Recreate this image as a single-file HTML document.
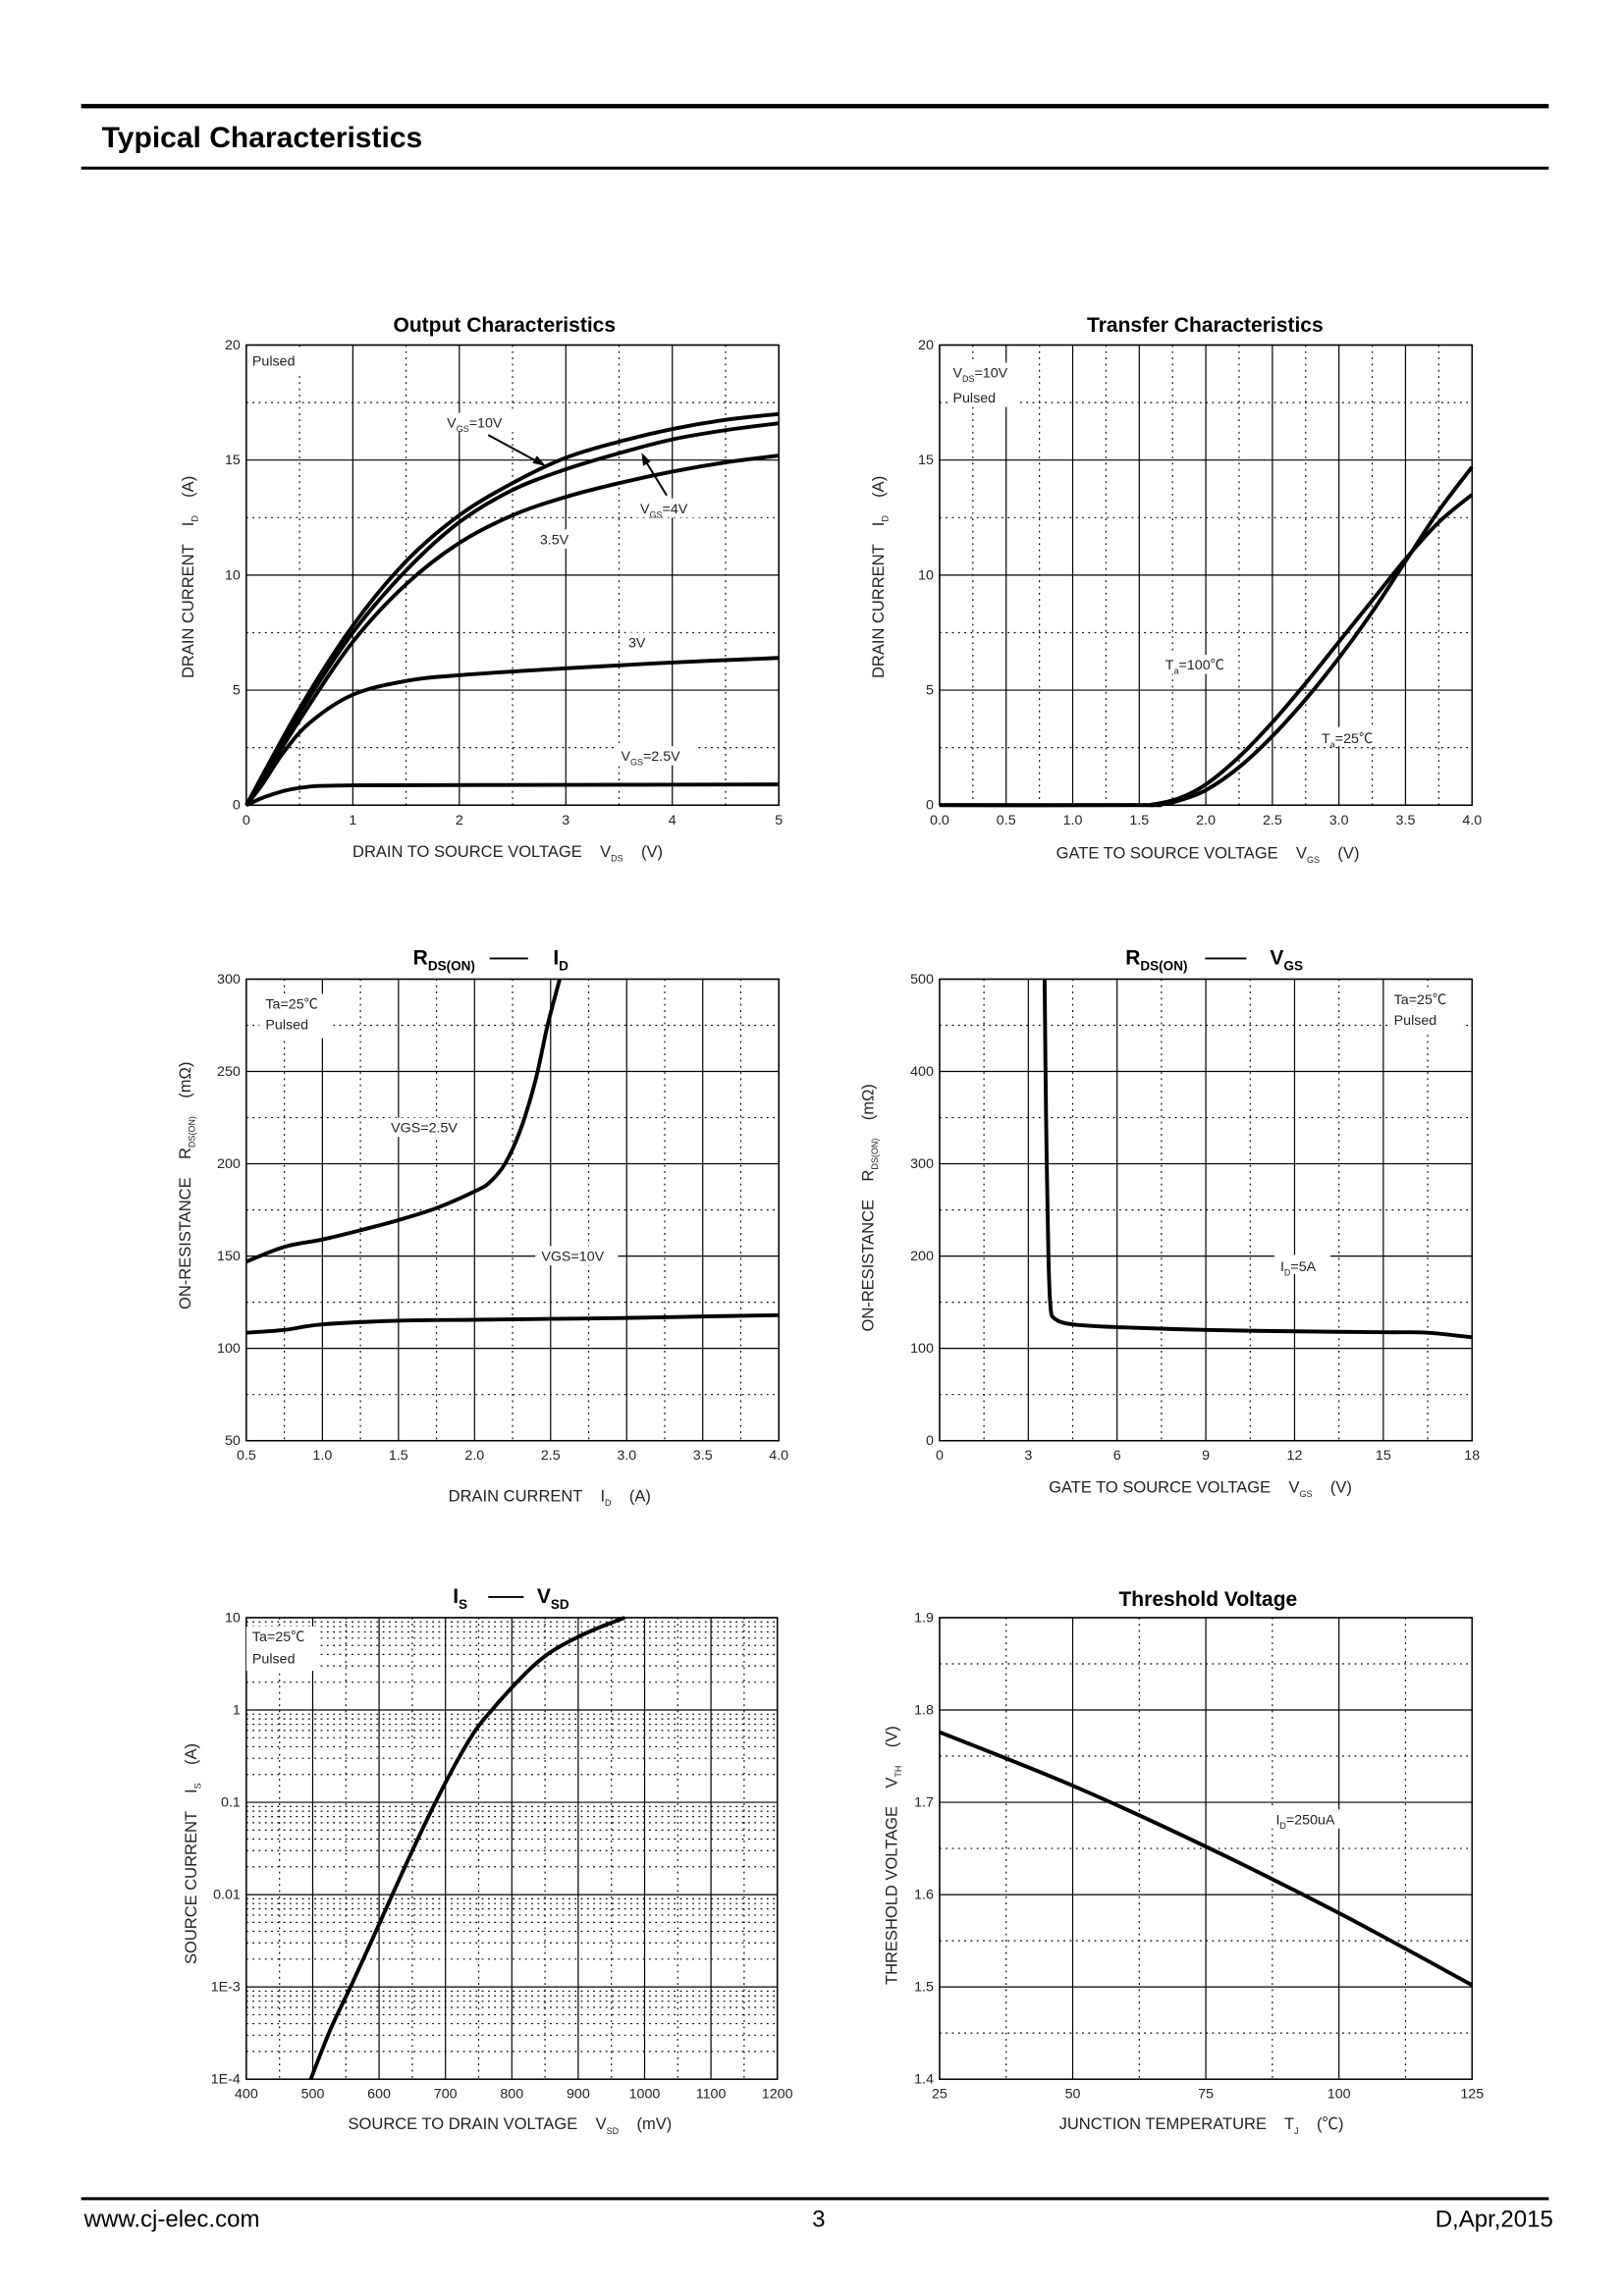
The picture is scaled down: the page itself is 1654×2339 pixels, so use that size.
<!DOCTYPE html>
<html><head><meta charset="utf-8">
<style>
html,body{margin:0;padding:0;background:#fff;}
svg{display:block;}
text{font-family:"Liberation Sans","Noto Sans CJK SC",sans-serif;white-space:pre;}
</style></head>
<body>
<svg id="s" xmlns="http://www.w3.org/2000/svg" xml:space="preserve" width="1654" height="2339" viewBox="0 0 1101 1557">
<rect width="1101" height="1557" fill="#fff"/>
<line x1="55" y1="72" x2="1050" y2="72" stroke="#000" stroke-width="3"/>
<text x="69" y="100" font-size="20" font-weight="bold">Typical Characteristics</text>
<line x1="55" y1="114" x2="1050" y2="114" stroke="#000" stroke-width="2"/>
<line x1="55" y1="1491" x2="1050" y2="1491" stroke="#000" stroke-width="2"/>
<text x="57" y="1510" font-size="16">www.cj-elec.com</text>
<text x="555" y="1510" font-size="16" text-anchor="middle">3</text>
<text x="1053" y="1510" font-size="16" text-anchor="end">D,Apr,2015</text>

<text x="342" y="225" font-size="14" font-weight="bold" text-anchor="middle">Output Characteristics</text>
<text x="817" y="225" font-size="14" font-weight="bold" text-anchor="middle">Transfer Characteristics</text>
<text x="280" y="654" font-size="14" font-weight="bold">R<tspan font-size="9" dy="4">DS(ON)</tspan></text>
<line x1="332" y1="650" x2="358" y2="650" stroke="#000" stroke-width="1.2"/>
<text x="375" y="654" font-size="14" font-weight="bold">I<tspan font-size="9" dy="4">D</tspan></text>
<text x="763" y="654" font-size="14" font-weight="bold">R<tspan font-size="9" dy="4">DS(ON)</tspan></text>
<line x1="817" y1="650" x2="845" y2="650" stroke="#000" stroke-width="1.2"/>
<text x="861" y="654" font-size="14" font-weight="bold">V<tspan font-size="9" dy="4">GS</tspan></text>
<text x="307" y="1087" font-size="14" font-weight="bold">I<tspan font-size="9" dy="4">S</tspan></text>
<line x1="331" y1="1083" x2="355" y2="1083" stroke="#000" stroke-width="1.2"/>
<text x="364" y="1087" font-size="14" font-weight="bold">V<tspan font-size="9" dy="4">SD</tspan></text>
<text x="819" y="1089" font-size="14" font-weight="bold" text-anchor="middle">Threshold Voltage</text>

<g font-size="11" fill="#222">
<text x="239" y="581">DRAIN TO SOURCE VOLTAGE    V<tspan font-size="6" dy="3">DS</tspan><tspan dy="-3">    (V)</tspan></text>
<text x="716" y="582">GATE TO SOURCE VOLTAGE    V<tspan font-size="6" dy="3">GS</tspan><tspan dy="-3">    (V)</tspan></text>
<text x="304" y="1018">DRAIN CURRENT    I<tspan font-size="6" dy="3">D</tspan><tspan dy="-3">    (A)</tspan></text>
<text x="711" y="1012">GATE TO SOURCE VOLTAGE    V<tspan font-size="6" dy="3">GS</tspan><tspan dy="-3">    (V)</tspan></text>
<text x="236" y="1444">SOURCE TO DRAIN VOLTAGE    V<tspan font-size="6" dy="3">SD</tspan><tspan dy="-3">    (mV)</tspan></text>
<text x="718" y="1444">JUNCTION TEMPERATURE    T<tspan font-size="6" dy="3">J</tspan><tspan dy="-3">    (℃)</tspan></text>
<text transform="translate(131,460) rotate(-90)">DRAIN CURRENT    I<tspan font-size="6" dy="3">D</tspan><tspan dy="-3">    (A)</tspan></text>
<text transform="translate(599,460) rotate(-90)">DRAIN CURRENT    I<tspan font-size="6" dy="3">D</tspan><tspan dy="-3">    (A)</tspan></text>
<text transform="translate(129,888) rotate(-90)">ON-RESISTANCE    R<tspan font-size="6" dy="3">DS(ON)</tspan><tspan dy="-3">    (mΩ)</tspan></text>
<text transform="translate(592,903) rotate(-90)">ON-RESISTANCE    R<tspan font-size="6" dy="3">DS(ON)</tspan><tspan dy="-3">    (mΩ)</tspan></text>
<text transform="translate(133,1332) rotate(-90)">SOURCE CURRENT    I<tspan font-size="6" dy="3">S</tspan><tspan dy="-3">    (A)</tspan></text>
<text transform="translate(608,1346) rotate(-90)">THRESHOLD VOLTAGE    V<tspan font-size="6" dy="3">TH</tspan><tspan dy="-3">    (V)</tspan></text>
</g>
<g id="charts"></g>
</svg>
<script>
var NS="http://www.w3.org/2000/svg",G=document.getElementById("charts");
function el(t,a,p){var e=document.createElementNS(NS,t);for(var k in a)e.setAttribute(k,a[k]);(p||G).appendChild(e);return e;}
function txt(x,y,s,a){a=a||{};a.x=x;a.y=y;if(!a["font-size"])a["font-size"]=9.5;if(!a.fill)a.fill="#222";var e=el("text",a);e.textContent=s;return e;}
function spline(pts){var d="M"+pts[0][0].toFixed(2)+","+pts[0][1].toFixed(2);
for(var i=0;i<pts.length-1;i++){var p0=pts[i-1]||pts[i],p1=pts[i],p2=pts[i+1],p3=pts[i+2]||p2;
var c1=[p1[0]+(p2[0]-p0[0])/6,p1[1]+(p2[1]-p0[1])/6],c2=[p2[0]-(p3[0]-p1[0])/6,p2[1]-(p3[1]-p1[1])/6];
d+="C"+c1[0].toFixed(2)+","+c1[1].toFixed(2)+" "+c2[0].toFixed(2)+","+c2[1].toFixed(2)+" "+p2[0].toFixed(2)+","+p2[1].toFixed(2);}return d;}
function chart(c){
 var L=c.x0,R=c.x1,T=c.y0,B=c.y1;
 var fx=function(v){return L+(v-c.xmin)/(c.xmax-c.xmin)*(R-L);};
 var fy=c.log?function(v){return B-(Math.log10(v)-c.ymin)/(c.ymax-c.ymin)*(B-T);}:function(v){return B-(v-c.ymin)/(c.ymax-c.ymin)*(B-T);};
 var g=el("g",{});
 (c.xd||[]).forEach(function(v){var x=fx(v);el("line",{x1:x,y1:T,x2:x,y2:B,stroke:"#000","stroke-width":0.8,"stroke-dasharray":"1.2 3"},g);});
 (c.yd||[]).forEach(function(v){var y=fy(v);el("line",{x1:L,y1:y,x2:R,y2:y,stroke:"#000","stroke-width":0.8,"stroke-dasharray":"1.2 3"},g);});
 c.xs.forEach(function(v){var x=fx(v);el("line",{x1:x,y1:T,x2:x,y2:B,stroke:"#000","stroke-width":0.8},g);});
 c.ys.forEach(function(v){var y=fy(v);el("line",{x1:L,y1:y,x2:R,y2:y,stroke:"#000","stroke-width":0.8},g);});
 el("rect",{x:L,y:T,width:R-L,height:B-T,fill:"none",stroke:"#000","stroke-width":1},g);
 c.xl.forEach(function(s,i){txt(fx(c.xs[i]),B+13,s,{"text-anchor":"middle"});});
 c.yl.forEach(function(s,i){txt(L-4,fy(c.ys[i])+3,s,{"text-anchor":"end"});});
 (c.labels||[]).forEach(function(l){var w=l[3]||l[2].length*5.6;el("rect",{x:l[0]-2,y:l[1]-10,width:w+4,height:l[4]||13,fill:"#fff"});});
 (c.curves||[]).forEach(function(cv){var pts=cv.map(function(p){return [fx(p[0]),fy(p[1])];});
  el("path",{d:spline(pts),fill:"none",stroke:"#000","stroke-width":2.6,"stroke-linejoin":"round"});});
 return c;
}
function rng(a,b,s){var r=[];for(var v=a;v<=b+1e-9;v+=s)r.push(+v.toFixed(4));return r;}
chart({x0:167,x1:528,y0:234,y1:546,xmin:0,xmax:5,ymin:0,ymax:20,
 xs:[0,1,2,3,4,5],xl:["0","1","2","3","4","5"],ys:[0,5,10,15,20],yl:["0","5","10","15","20"],
 xd:[0.5,1.5,2.5,3.5,4.5],yd:[2.5,7.5,12.5,17.5],
 labels:[[170,248,"Pulsed",36,14],[302,290,"",48],[433,348,"",42],[366,369,"3.5V",22],[426,439,"3V",14],[420,516,"",50]],
 curves:[
 [[0,0],[0.5,4.2],[1,7.8],[1.5,10.6],[2,12.6],[2.5,14],[3,15.1],[3.5,15.8],[4,16.35],[4.5,16.75],[5,17]],
 [[0,0],[0.5,4],[1,7.5],[1.5,10.2],[2,12.3],[2.5,13.7],[3,14.6],[3.5,15.3],[4,15.9],[4.5,16.3],[5,16.6]],
 [[0,0],[0.5,3.7],[1,7.1],[1.5,9.6],[2,11.4],[2.5,12.6],[3,13.4],[3.5,14],[4,14.5],[4.5,14.9],[5,15.2]],
 [[0,0],[0.15,0.9],[0.35,2.3],[0.6,3.6],[1,4.8],[1.5,5.4],[2,5.65],[3,5.95],[4,6.2],[5,6.4]],
 [[0,0],[0.2,0.4],[0.5,0.75],[1,0.86],[3,0.88],[5,0.9]]]});
txt(171,248,"Pulsed");txt(366,369,"3.5V");txt(426,439,"3V");
(function(){var t=txt(303,290,"V");var s=el("tspan",{"font-size":6,dy:3},t);s.textContent="GS";s=el("tspan",{dy:-3},t);s.textContent="=10V";
t=txt(434,348,"V");s=el("tspan",{"font-size":6,dy:3},t);s.textContent="GS";s=el("tspan",{dy:-3},t);s.textContent="=4V";
t=txt(421,516,"V");s=el("tspan",{"font-size":6,dy:3},t);s.textContent="GS";s=el("tspan",{dy:-3},t);s.textContent="=2.5V";})();
el("line",{x1:331,y1:295,x2:368,y2:315,stroke:"#000","stroke-width":1.3});
el("polygon",{points:"370,316 361,314 364,309",fill:"#000"});
el("line",{x1:452,y1:336,x2:436,y2:310,stroke:"#000","stroke-width":1.3});
el("polygon",{points:"435,307 441,313 436,316",fill:"#000"});
chart({x0:637,x1:998,y0:234,y1:546,xmin:0,xmax:4,ymin:0,ymax:20,
 xs:rng(0,4,0.5),xl:["0.0","0.5","1.0","1.5","2.0","2.5","3.0","3.5","4.0"],ys:[0,5,10,15,20],yl:["0","5","10","15","20"],
 xd:rng(0.25,3.75,0.5),yd:[2.5,7.5,12.5,17.5],
 labels:[[645,256,"",44,30],[789,454,"",46],[895,503,"",44]],
 curves:[
 [[0,0],[1.5,0],[1.65,0.02],[1.8,0.2],[2,0.65],[2.25,1.65],[2.5,3],[2.75,4.6],[3,6.4],[3.25,8.4],[3.5,10.6],[3.75,12.8],[4,14.7]],
 [[0,0],[1.45,0],[1.6,0.03],[1.8,0.3],[2,0.9],[2.25,2.1],[2.5,3.6],[2.75,5.3],[3,7.1],[3.25,8.9],[3.5,10.7],[3.75,12.3],[4,13.5]]]});
(function(){var t=txt(646,256,"V");var s=el("tspan",{"font-size":6,dy:3},t);s.textContent="DS";s=el("tspan",{dy:-3},t);s.textContent="=10V";
txt(646,273,"Pulsed");
t=txt(790,454,"T");s=el("tspan",{"font-size":6,dy:3},t);s.textContent="a";s=el("tspan",{dy:-3},t);s.textContent="=100℃";
t=txt(896,504,"T");s=el("tspan",{"font-size":6,dy:3},t);s.textContent="a";s=el("tspan",{dy:-3},t);s.textContent="=25℃";})();
chart({x0:167,x1:528,y0:664,y1:977,xmin:0.5,xmax:4,ymin:50,ymax:300,
 xs:rng(0.5,4,0.5),xl:["0.5","1.0","1.5","2.0","2.5","3.0","3.5","4.0"],ys:rng(50,300,50),yl:["50","100","150","200","250","300"],
 xd:rng(0.75,3.75,0.5),yd:rng(75,275,50),
 labels:[[178,684,"",46,30],[263,768,"",56],[365,855,"",52]],
 curves:[
 [[0.5,147],[0.75,155],[1,159],[1.25,164],[1.5,169.5],[1.75,176],[2,185],[2.1,190],[2.2,200],[2.3,218],[2.4,245],[2.48,275],[2.56,300]],
 [[0.5,108.5],[0.75,110],[1,113],[1.5,115],[2,115.5],[2.5,116],[3,116.5],[3.5,117.3],[4,118]]]});
txt(180,684,"Ta=25℃");txt(180,698,"Pulsed");txt(265,768,"VGS=2.5V");txt(367,855,"VGS=10V");
chart({x0:637,x1:998,y0:664,y1:977,xmin:0,xmax:18,ymin:0,ymax:500,
 xs:rng(0,18,3),xl:["0","3","6","9","12","15","18"],ys:rng(0,500,100),yl:["0","100","200","300","400","500"],
 xd:rng(1.5,16.5,3),yd:rng(50,450,100),
 labels:[[943,681,"",46,30],[866,861,"",34]],
 curves:[[[3.55,500],[3.6,350],[3.68,200],[3.75,145],[3.9,132],[4.5,126],[6,123],[9,120],[12,118.5],[15,117.5],[16.5,117],[18,112]]]});
txt(945,681,"Ta=25℃");txt(945,695,"Pulsed");
(function(){var t=txt(868,862,"I");var s=el("tspan",{"font-size":6,dy:3},t);s.textContent="D";s=el("tspan",{dy:-3},t);s.textContent="=5A";})();
var yd5=[];for(var d=-4;d<1;d++)for(var m=2;m<=9;m++)yd5.push(m*Math.pow(10,d));
chart({x0:167,x1:527,y0:1097,y1:1410,xmin:400,xmax:1200,ymin:-4,ymax:1,log:true,
 xs:rng(400,1200,100),xl:["400","500","600","700","800","900","1000","1100","1200"],
 ys:[1e-4,1e-3,1e-2,0.1,1,10],yl:["1E-4","1E-3","0.01","0.1","1","10"],
 xd:rng(450,1150,100),yd:yd5,
 labels:[[169,1113,"",46,30]],
 curves:[[[497,1e-4],[527,3.5e-4],[557,1e-3],[590,3.3e-3],[620,1e-2],[652,3.2e-2],[685,0.1],[715,0.26],[745,0.6],[770,1],[800,1.75],[830,2.9],[860,4.3],[900,6.2],[935,8],[970,10]]]});
txt(171,1113,"Ta=25℃");txt(171,1128,"Pulsed");
chart({x0:637,x1:998,y0:1097,y1:1410,xmin:25,xmax:125,ymin:1.4,ymax:1.9,
 xs:[25,50,75,100,125],xl:["25","50","75","100","125"],ys:rng(1.4,1.9,0.1),yl:["1.4","1.5","1.6","1.7","1.8","1.9"],
 xd:[37.5,62.5,87.5,112.5],yd:rng(1.45,1.85,0.1),
 labels:[[862,1237,"",52]],
 curves:[[[25,1.776],[50,1.718],[75,1.652],[100,1.58],[125,1.502]]]});
(function(){var t=txt(865,1237,"I");var s=el("tspan",{"font-size":6,dy:3},t);s.textContent="D";s=el("tspan",{dy:-3},t);s.textContent="=250uA";})();
</script>
</body></html>
